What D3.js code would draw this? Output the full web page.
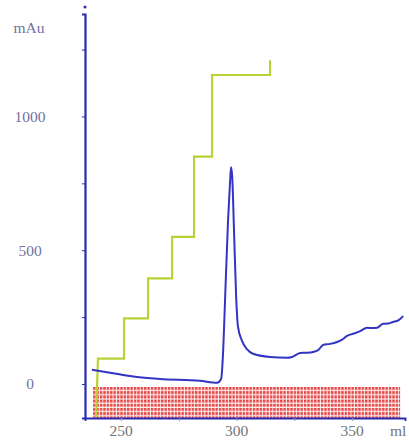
<!DOCTYPE html>
<html>
<head>
<meta charset="utf-8">
<script src="https://cdn.jsdelivr.net/npm/d3@7"></script>
<style>
  body { margin: 0; background: #fff; }
  svg { display: block; font-family: "Liberation Serif", "DejaVu Serif", serif; }
  .ylab { fill: #7272a0; font-size: 15.5px; }
  .xlab { fill: #747474; font-size: 15.5px; }
</style>
</head>
<body>
<div id="chart"></div>
<script>
// volume (ml) and absorbance (mAu)
const uvMl  = [237.4, 245.2, 256.1, 266.9, 284.2, 291.6, 293.3, 294.2, 295.0, 296.3, 297.2, 297.6, 298.1, 298.9, 299.8, 300.6, 302.4, 304.5, 307.1, 314.5, 321.9, 324.0, 327.5, 330.5, 333.1, 335.5, 337.4, 340.5, 343.5, 345.5, 347.8, 350.5, 353.5, 356.5, 358.5, 360.8, 363.4, 365.5, 367.7, 370.0, 372.1];
const uvMau = [53, 42, 27, 19, 12, 5, 19, 124, 310, 609, 758, 810, 777, 572, 330, 215, 160, 130, 113, 101, 98, 101, 116, 117, 120, 128, 146, 150, 157, 165, 180, 188, 198, 210, 209, 210, 225, 226, 232, 238, 254];

// step gradient: step start volume and level (drawn on the mAu scale)
const stepMl    = [239.2, 240.0, 251.3, 261.7, 272.1, 281.6, 289.4, 314.5];
const stepLevel = [-127, 95, 245, 395, 550, 850, 1155, 1210];

// fraction collection range (ml)
const fractionRange = [237.9, 370.8];

const yTicks = [0, 250, 500, 750, 1000, 1250];
const yLabels = [0, 500, 1000];
const xTicks = [250, 275, 300, 325, 350];
const xLabels = [250, 300, 350];

const width = 409, height = 441;

const svg = d3.select("#chart").append("svg")
    .attr("width", width)
    .attr("height", height);

const x = d3.scaleLinear().domain([234.4, 372.9]).range([85, 405]);
const y = d3.scaleLinear().domain([-127, 1383]).range([418, 14]);

// red fraction pattern
const pat = svg.append("defs").append("pattern")
    .attr("id", "frac")
    .attr("patternUnits", "userSpaceOnUse")
    .attr("width", 3.4)
    .attr("height", 4.2)
    .attr("x", x(fractionRange[0]))
    .attr("y", y(-11));
pat.append("rect").attr("width", 3.4).attr("height", 4.2).attr("fill", "#fdeeee");
pat.append("rect").attr("width", 2.4).attr("height", 3).attr("fill", "#e54a4a");

svg.append("rect")
    .attr("x", x(fractionRange[0]))
    .attr("y", y(-11))
    .attr("width", x(fractionRange[1]) - x(fractionRange[0]))
    .attr("height", y(-127) - y(-11))
    .attr("fill", "url(#frac)");

// gradient steps
const stepPts = [];
stepMl.forEach((m, i) => {
    if (i > 0) stepPts.push([m, stepLevel[i - 1]]);
    stepPts.push([m, stepLevel[i]]);
});
stepPts.splice(1, 1); // first rise is a slight slant
svg.append("path")
    .datum(stepPts)
    .attr("fill", "none")
    .attr("stroke", "#b8d236")
    .attr("stroke-width", 2.2)
    .attr("d", d3.line().x(d => x(d[0])).y(d => y(d[1])));

// UV trace
svg.append("path")
    .datum(d3.zip(uvMl, uvMau))
    .attr("fill", "none")
    .attr("stroke", "#3333c4")
    .attr("stroke-width", 2)
    .attr("d", d3.line().x(d => x(d[0])).y(d => y(d[1])).curve(d3.curveMonotoneX));

// y axis
const yAxis = svg.append("g")
    .attr("transform", "translate(85,0)")
    .call(d3.axisLeft(y).tickValues(yTicks).tickSize(3).tickFormat(""));
yAxis.select(".domain").attr("stroke", "#2a2ab0").attr("stroke-width", 2.2);
yAxis.selectAll(".tick line").attr("stroke", "#2a2ab0");

svg.append("circle").attr("cx", 85).attr("cy", 7).attr("r", 1.5).attr("fill", "#2a2ab0");

svg.selectAll(".ylab")
    .data(yLabels)
    .enter().append("text")
    .attr("class", "ylab")
    .attr("x", 30)
    .attr("y", d => y(d))
    .attr("dy", "0.35em")
    .attr("text-anchor", "middle")
    .text(d => d);

svg.append("text")
    .attr("class", "ylab")
    .attr("x", 29)
    .attr("y", 28)
    .attr("dy", "0.35em")
    .attr("text-anchor", "middle")
    .text("mAu");

// x axis
const xAxis = svg.append("g")
    .attr("transform", "translate(0,418)")
    .call(d3.axisBottom(x).tickValues(xTicks).tickSize(3).tickFormat(""));
xAxis.select(".domain").attr("stroke", "#2a2ab0").attr("stroke-width", 1.8);
xAxis.selectAll(".tick line").attr("stroke", "#9a9ab0");

svg.selectAll(".xlab")
    .data(xLabels)
    .enter().append("text")
    .attr("class", "xlab")
    .attr("x", d => x(d))
    .attr("y", 431)
    .attr("dy", "0.35em")
    .attr("text-anchor", "middle")
    .text(d => d);

svg.append("text")
    .attr("class", "xlab")
    .attr("x", 390)
    .attr("y", 431)
    .attr("dy", "0.35em")
    .text("ml");
</script>
</body>
</html>
